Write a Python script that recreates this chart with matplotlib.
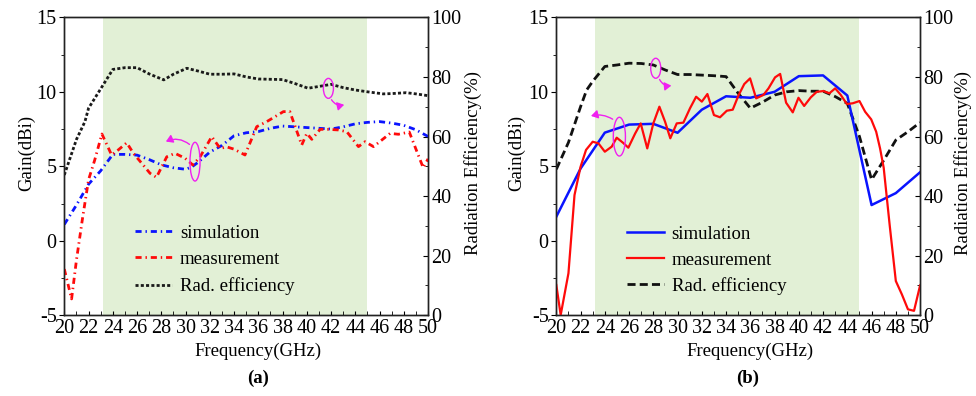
import matplotlib
matplotlib.use("Agg")
import matplotlib.pyplot as plt
from matplotlib.patches import Ellipse, FancyArrowPatch
from matplotlib.ticker import MultipleLocator

plt.rcParams['font.family'] = ['Liberation Serif', 'DejaVu Serif']
plt.rcParams['font.size'] = 13.5
plt.rcParams['axes.unicode_minus'] = False

# ---- (a) data ----
a_sim_f = [20, 21, 22, 23, 24, 25, 26, 27, 28, 29, 30, 30.5, 31, 32, 33, 34, 35, 36, 37, 38,
           39, 40, 41, 42, 43, 44, 45, 46, 47, 48, 49, 50]
a_sim_g = [1.1, 2.4, 3.8, 4.7, 5.8, 5.8, 5.75, 5.45, 5.1, 4.9, 4.8, 4.95, 5.25, 5.95, 6.4, 7.05,
           7.25, 7.33, 7.55, 7.7, 7.65, 7.6, 7.55, 7.5, 7.65, 7.85, 7.95, 8.0, 7.9, 7.75, 7.45, 7.0]

a_meas_f = [20.0, 20.3, 20.6, 21.0, 21.5, 22.0, 22.5, 23.1, 23.9, 24.45, 25.15, 25.7, 26.5, 27.07,
            27.6, 28.45, 29.13, 29.96, 30.6, 31.2, 32.16, 32.85, 33.4, 34.0, 34.9, 35.87, 36.7,
            38.07, 38.6, 39.58, 40.0, 40.41, 41.1, 41.78, 42.6, 43.3, 44.26, 44.8, 45.5, 46.87,
            47.55, 48.45, 49.6, 50.0]
a_meas_g = [-1.9, -2.9, -3.9, -1.3, 1.5, 4.1, 5.4, 7.17, 5.76, 6.1, 6.58, 5.87, 5.09, 4.53,
            4.26, 5.64, 5.87, 5.54, 5.09, 5.64, 6.99, 6.2, 6.3, 6.15, 5.76, 7.66, 8.0,
            8.67, 8.67, 6.43, 7.21, 6.81, 7.48, 7.48, 7.44, 7.32, 6.32, 6.65, 6.32, 7.21,
            7.15, 7.3, 4.9, 5.5]

a_eff_f = [20, 21, 21.7, 22, 23, 24, 25, 26, 27, 28.2, 29, 30.1, 31, 32, 33, 34, 35, 36, 37, 38,
           39, 40.1, 41, 42, 43, 44, 45, 46.3, 47, 48.2, 49, 50]
a_eff = [47.1, 59, 65, 69.5, 76, 82.5, 83.1, 83.1, 81.0, 79.0, 80.9, 82.9, 82.0, 80.9, 80.9, 81.0,
         80.0, 79.3, 79.2, 79.1, 77.8, 76.2, 76.8, 77.5, 76.4, 75.6, 75.0, 74.3, 74.4, 74.7, 74.3, 73.7]

# ---- (b) data ----
b_sim_f = [20, 22, 24, 26, 28, 30, 32, 34, 36, 38, 40, 42, 44, 46, 48, 50]
b_sim_g = [1.62, 4.85, 7.26, 7.8, 7.85, 7.25, 8.8, 9.7, 9.6, 10.0, 11.05, 11.1, 9.75, 2.4, 3.2, 4.6]

b_meas_f = [20.0, 20.36, 21.0, 21.5, 22.0, 22.45, 23.0, 23.47, 24.0, 24.57, 24.98, 25.5, 25.94,
            26.5, 26.96, 27.5, 28.0, 28.5, 28.97, 29.4, 29.93, 30.48, 31.03, 31.53, 32.0, 32.46,
            33.0, 33.5, 34.06, 34.55, 35.02, 35.5, 35.98, 36.48, 37.08, 37.5, 38.04, 38.46,
            38.95, 39.5, 39.97, 40.44, 40.99, 41.48, 42.03, 42.52, 43.0, 43.46, 43.96, 44.45,
            45.0, 45.47, 45.97, 46.38, 46.7, 47.0, 47.5, 48.0, 48.5, 49.0, 49.5, 50.0]
b_meas_g = [-2.97, -4.98, -2.18, 3.07, 4.97, 6.1, 6.65, 6.54, 5.98, 6.32, 6.92, 6.58, 6.25,
            7.2, 7.88, 6.2, 7.88, 9.0, 7.99, 6.88, 7.88, 7.93, 8.9, 9.67, 9.34, 9.85,
            8.44, 8.29, 8.73, 8.8, 9.75, 10.52, 10.9, 9.56, 9.79, 10.23, 10.97, 11.2,
            9.27, 8.62, 9.6, 9.05, 9.63, 10.0, 10.05, 9.9, 10.23, 9.79, 9.18, 9.23,
            9.38, 8.66, 8.15, 7.32, 6.2, 4.9, 1.0, -2.7, -3.6, -4.6, -4.7, -3.0]

b_eff_f = [20, 21, 22, 22.5, 23, 24, 25, 26, 27, 28, 29, 30, 31, 32, 33, 34, 35, 36, 37, 38,
           39, 40, 41, 42, 43, 44, 45, 46, 47, 48, 49, 50]
b_eff = [49, 58, 70, 75.6, 78.5, 83.5, 84, 84.6, 84.5, 84, 82.3, 80.8, 80.8, 80.6, 80.4, 80.1,
         74.5, 69.5, 71.5, 73.9, 75.0, 75.4, 75.2, 75.2, 73.4, 71.1, 60, 45.5, 52, 58.8, 61.6, 64.7]

band = (23.2, 45.0)
freq_ticks = list(range(20, 51, 2))
gain_ticks = [-5, 0, 5, 10, 15]
eff_ticks = [0, 20, 40, 60, 80, 100]

fig = plt.figure(figsize=(9.76, 3.96), dpi=100)

magenta = '#f020f0'


def style_axes(ax1, ax2):
    ax1.set_xlim(20, 50)
    ax1.set_ylim(-5, 15)
    ax2.set_ylim(0, 100)
    ax1.set_xticks(freq_ticks)
    ax1.xaxis.set_minor_locator(MultipleLocator(1))
    ax1.set_yticks(gain_ticks)
    ax1.yaxis.set_minor_locator(MultipleLocator(2.5))
    ax2.set_yticks(eff_ticks)
    ax2.yaxis.set_minor_locator(MultipleLocator(10))
    ax1.tick_params(axis='x', which='both', direction='in', length=3, pad=3, top=False,
                    labelsize=14.5)
    ax1.tick_params(axis='y', which='major', direction='out', length=3.5, pad=2, labelsize=14.5)
    ax1.tick_params(axis='y', which='minor', direction='out', length=2.5)
    ax2.tick_params(axis='y', which='major', direction='in', length=3.5, pad=2.5, labelsize=14.5)
    ax2.tick_params(axis='y', which='minor', direction='in', length=2.5)
    for a in (ax1, ax2):
        for s in a.spines.values():
            s.set_linewidth(1.0)
            s.set_color('#222222')
    # shaded band goes on the lower (efficiency) axes so nothing is hidden behind it
    ax2.axvspan(band[0], band[1], color='#e2f0d6', lw=0, zorder=0)
    ax1.set_xlabel('Frequency(GHz)')
    ax1.xaxis.set_label_coords(0.533, -0.12)
    ax1.xaxis.label.set_va('center')
    ax1.set_ylabel('Gain(dBi)')
    ax1.yaxis.label.set_va('center')
    ax2.set_ylabel('Radiation Efficiency(%)')
    ax2.yaxis.label.set_va('center')


def annotate(ax, ell, start, end, rad):
    ax.add_patch(Ellipse(ell[0], ell[1], ell[2], fill=False, ec=magenta, lw=1.0, zorder=5))
    ax.add_patch(FancyArrowPatch(start, end, connectionstyle=f'arc3,rad={rad}',
                                 arrowstyle='-|>,head_length=4,head_width=2.5',
                                 color=magenta, lw=1.0, zorder=5))


def make_pair(rect):
    g = fig.add_axes(rect)
    e = g.twinx()
    g.set_zorder(e.get_zorder() + 1)
    g.patch.set_visible(False)
    e.patch.set_visible(False)
    return g, e


# ---- panel (a) ----
ax1, ax2 = make_pair([0.0659, 0.2038, 0.3727, 0.7525])
l1, = ax1.plot(a_sim_f, a_sim_g, color='#0a14ff', lw=2.0, ls=(0, (2.2, 1.4, 0.5, 1.4)),
               label='simulation')
l2, = ax1.plot(a_meas_f, a_meas_g, color='#ff0a0a', lw=2.0, ls=(0, (2.2, 1.4, 0.5, 1.4)),
               label='measurement')
l3, = ax2.plot(a_eff_f, a_eff, color='#1a1a1a', lw=2.0, ls=(0, (1.1, 0.8)),
               label='Rad. efficiency')
style_axes(ax1, ax2)
ax1.yaxis.set_label_coords(-0.1026, 0.545)
ax2.yaxis.set_label_coords(1.124, 0.511)
ax1.legend(handles=[l1, l2, l3], loc='upper left', bbox_to_anchor=(0.194, 0.305),
           frameon=False, borderpad=0, borderaxespad=0, handlelength=2.0,
           handletextpad=0.4, labelspacing=0.5)
annotate(ax1, ((30.78, 5.31), 0.83, 2.6), (30.5, 6.35), (28.17, 6.58), 0.35)
annotate(ax1, ((41.78, 10.23), 0.83, 1.34), (41.92, 9.63), (43.3, 9.18), 0.45)
fig.text(0.2643, 1 - 378 / 396, '(a)', ha='center', va='center', fontweight='bold')

# ---- panel (b) ----
bx1, bx2 = make_pair([0.570, 0.2038, 0.3727, 0.7525])
m1, = bx1.plot(b_sim_f, b_sim_g, color='#0a14ff', lw=1.8, label='simulation')
m2, = bx1.plot(b_meas_f, b_meas_g, color='#ff0a0a', lw=1.6, label='measurement')
m3, = bx2.plot(b_eff_f, b_eff, color='#111111', lw=2.0, ls=(0, (2.9, 1.5)),
               label='Rad. efficiency')
style_axes(bx1, bx2)
bx1.yaxis.set_label_coords(-0.109, 0.545)
bx2.yaxis.set_label_coords(1.117, 0.511)
bx1.legend(handles=[m1, m2, m3], loc='upper left', bbox_to_anchor=(0.1936, 0.30),
           frameon=False, borderpad=0, borderaxespad=0, handlelength=2.0,
           handletextpad=0.4, labelspacing=0.45)
annotate(bx1, ((25.2, 6.99), 1.0, 2.6), (24.84, 8.06), (22.64, 8.33), 0.25)
annotate(bx1, ((28.2, 11.58), 0.83, 1.34), (28.42, 11.0), (29.71, 10.45), 0.45)
fig.text(747.7 / 976, 1 - 378 / 396, '(b)', ha='center', va='center', fontweight='bold')

fig.savefig('out.png', dpi=100)
